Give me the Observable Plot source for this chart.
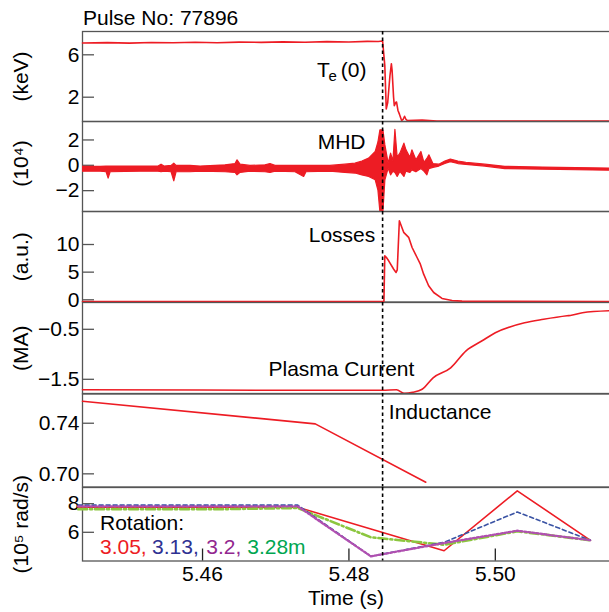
<!DOCTYPE html>
<html><head><meta charset="utf-8">
<script src="https://cdn.jsdelivr.net/npm/d3@7"></script>
<script src="https://cdn.jsdelivr.net/npm/@observablehq/plot@0.6"></script>
<style>
html,body{margin:0;padding:0;background:#fff;overflow:hidden}
#chart{position:relative;width:609px;height:612px;font-family:"Liberation Sans",Arial,Helvetica,sans-serif}
#chart svg{position:absolute;left:0}
#title{position:absolute;left:83px;top:7px;font-size:21px;line-height:21px;color:#000}
</style></head><body>
<div id="chart"><div id="title">Pulse No: 77896</div></div>
<script>
// ---------- data ----------
const xDomain = [5.4436, 5.5156];
const xTicks = [5.46, 5.48, 5.50];
const tCrash = 5.4846;

// Te(0), keV
const teT = [5.4436,5.4470,5.4500,5.4530,5.4560,5.4590,5.4620,5.4650,5.4680,5.4710,5.4740,5.4770,5.4800,5.4825,5.4840,5.4846,
             5.4849,5.4851,5.4853,5.4856,5.4858,5.4859,5.4861,5.4862,5.4864,5.4865,5.4867,5.4869,5.4872,5.4874,5.4876,5.4878,5.4880,5.4900,5.4920,5.5156];
const teV = [7.12,7.15,7.10,7.16,7.13,7.18,7.14,7.20,7.17,7.22,7.19,7.24,7.21,7.27,7.26,7.30,
             5.0,0.9,1.5,4.0,5.15,4.5,2.0,1.2,1.5,1.55,0.75,0.4,-0.2,-0.1,0.2,-0.1,-0.2,-0.15,-0.25,-0.25];

// MHD envelope, 10^4
const mhdT = [5.44362,5.44608,5.44689,5.44717,5.44744,5.45154,5.45399,5.45440,5.45481,5.45577,5.45614,5.45645,5.45836,5.45973,
              5.46314,5.46451,5.46478,5.46519,5.46655,5.46860,5.46928,5.46997,5.47270,5.47388,5.47420,5.47747,5.47952,5.48089,
              5.48184,5.48276,5.48366,5.48403,5.48430,5.48471,5.48498,5.48543,5.48576,5.48608,5.48635,5.48666,5.48703,5.48758,
              5.48785,5.48840,5.48867,5.48922,5.48990,5.49031,5.49072,5.49099,5.49154,5.49235,5.49317,5.49392,5.49495,5.49604,
              5.49863,5.50137,5.50655,5.51556];
const mhdLo = [-0.5,-0.5,-0.55,-1.05,-0.55,-0.5,-0.5,-0.55,-0.5,-0.55,-1.26,-0.55,-0.55,-0.5,
               -0.55,-0.6,-0.79,-0.6,-0.5,-0.55,-0.6,-0.5,-0.55,-0.92,-0.55,-0.5,-0.6,-0.65,
               -0.8,-0.92,-1.18,-2.0,-3.7,-3.7,-1.18,-0.26,-0.79,-0.5,-0.6,-0.92,-0.52,-0.92,
               -0.5,-0.6,-0.4,-0.55,-0.3,-0.5,-0.79,-0.3,-0.2,-0.1,0.1,0.25,0.1,0.03,
               -0.1,-0.3,-0.35,-0.42];
const mhdHi = [-0.12,-0.12,-0.1,-0.1,-0.1,-0.1,-0.1,0.05,-0.1,-0.05,0.13,-0.05,-0.05,-0.1,
               0.0,0.1,0.39,0.05,-0.05,0.0,0.1,-0.05,-0.05,-0.05,-0.05,-0.05,0.05,0.13,
               0.3,0.53,1.05,1.8,2.76,2.76,1.57,0.13,0.92,0.3,2.8,0.6,0.92,1.71,
               1.2,0.6,1.18,0.4,1.05,0.2,0.5,0.79,0.1,0.05,0.3,0.45,0.3,0.2,
               0.05,-0.12,-0.18,-0.26];

// Losses, a.u.
const lossT = [5.4436,5.4700,5.48478,5.48490,5.48510,5.48543,5.48612,5.48644,5.48660,5.48689,5.48748,5.48816,5.48863,5.48931,
               5.48976,5.49021,5.49089,5.49158,5.49272,5.49409,5.49545,5.5156];
const lossV = [-0.3,-0.3,-0.3,7.96,7.7,7.05,5.53,4.94,5.4,14.3,12.2,11.3,9.46,7.65,
               6.44,4.64,2.53,1.32,0.24,-0.13,-0.25,-0.3];

// Plasma current, MA
const ipT = [5.4436,5.4597,5.4734,5.4846,5.4865,5.4876,5.4887,5.4900,5.4915,5.4939,5.4960,5.4982,5.5000,5.5040,5.5066,5.5098,5.5104,5.5119,5.5156];
const ipV = [-1.71,-1.715,-1.72,-1.72,-1.71,-1.78,-1.76,-1.70,-1.47,-1.27,-0.93,-0.73,-0.57,-0.37,-0.30,-0.23,-0.22,-0.17,-0.13];

// Inductance
const liT = [5.4436,5.4754,5.4905];
const liV = [0.7574,0.7395,0.6934];

// Rotation, 10^5 rad/s
const rotT = [5.443,5.453,5.463,5.473,5.483,5.493,5.503,5.513];
const rot305 = [7.75,7.75,7.75,7.75,6.23,4.71,8.9,5.44];
const rot313 = [7.9,7.9,7.9,7.9,4.32,5.3,7.42,5.44];
const rot320 = [7.82,7.82,7.82,7.82,4.32,5.25,6.11,5.44];
const rot328 = [7.62,7.62,7.62,7.7,5.65,5.13,6.07,5.44];

// ---------- layout / style ----------
const W = 609, ML = 82, FS = 21;
const RED = "#ed1c24", FRAME = "#555";
const font = '"Liberation Sans", Arial, Helvetica, sans-serif';
const minus = s => s.replace("-", "\u2212");

const pts = (T, V) => T.map((t, i) => ({t, v: V[i]}));

function label(text, opts) {
  return Plot.text([text], {text: d => d, frameAnchor: "top-left", lineAnchor: "bottom", fontSize: FS, fill: "#000", ...opts});
}
function ylabel(text, dy = 0) {
  return Plot.text([text], {text: d => d, frameAnchor: "left", rotate: -90, dx: -61, dy, textAnchor: "middle", lineAnchor: "middle", fontSize: FS, fill: "#000"});
}

function panel({top, h, mb = 0, domain, ticks, fmt, marks, xaxis = false}) {
  const svg = Plot.plot({
    width: W, height: h + mb,
    marginLeft: ML, marginRight: 0, marginTop: 0, marginBottom: mb,
    x: xaxis ? {domain: xDomain, ticks: xTicks, tickFormat: d3.format(".2f"), tickSize: 0, tickPadding: 5, label: null}
             : {domain: xDomain, axis: null},
    y: {domain, ticks, tickFormat: fmt, tickSize: 0, tickPadding: 3, label: null},
    style: {background: "transparent", overflow: "visible", fontFamily: font, fontSize: FS + "px", color: "#000"},
    marks: [
      Plot.frame({stroke: FRAME, strokeWidth: 1.3, insetRight: -4}),
      Plot.tickY(ticks, {y: d => d, insetRight: W - ML - 12, stroke: FRAME, strokeWidth: 1.3}),
      ...(xaxis ? [Plot.tickX(xTicks, {x: d => d, insetTop: h - 12, stroke: "#222", strokeWidth: 1.3})] : []),
      ...marks,
      Plot.ruleX([tCrash], {x: d => d, stroke: "#000", strokeWidth: 1.6, strokeDasharray: "3.5,3"})
    ]
  });
  svg.style.top = top + "px";
  document.getElementById("chart").appendChild(svg);
}

// Te(0)
panel({top: 31, h: 90, domain: [-0.292, 8.198], ticks: [2, 6], fmt: d => String(d), marks: [
  Plot.line(pts(teT, teV), {x: "t", y: "v", stroke: RED, strokeWidth: 1.6}),
  label("T", {dx: 234.5, dy: 45}),
  label("e", {dx: 246, dy: 49, fontSize: 15}),
  label("(0)", {dx: 284, dy: 45, textAnchor: "end"}),
  ylabel("(keV)")
]});

// MHD
panel({top: 121, h: 90, domain: [-3.645, 3.456], ticks: [-2, 0, 2], fmt: d => minus(String(d)), marks: [
  Plot.areaY(mhdT.map((t, i) => ({t, lo: mhdLo[i], hi: mhdHi[i]})), {x: "t", y1: "lo", y2: "hi", fill: RED, stroke: RED, strokeWidth: 1.2, clip: true}),
  label("MHD", {dx: 283, dy: 27.3, textAnchor: "end"}),
  ylabel("(10\u2074)", -3)
]});

// Losses
panel({top: 211, h: 90.5, domain: [-0.40, 15.97], ticks: [0, 5, 10], fmt: d => String(d), marks: [
  Plot.line(pts(lossT, lossV), {x: "t", y: "v", stroke: RED, strokeWidth: 1.6}),
  label("Losses", {dx: 292.8, dy: 30.7, textAnchor: "end"}),
  ylabel("(a.u.)")
]});

// Plasma current
panel({top: 301.5, h: 91.5, domain: [-1.794, 0.036], ticks: [-1.5, -0.5], fmt: d => minus(d3.format(".1f")(d)), marks: [
  Plot.line(pts(ipT, ipV), {x: "t", y: "v", stroke: RED, strokeWidth: 1.6, curve: "monotone-x"}),
  label("Plasma Current", {dx: 186, dy: 73.5}),
  ylabel("(MA)")
]});

// Inductance
panel({top: 393, h: 93.5, domain: [0.6896, 0.7635], ticks: [0.70, 0.74], fmt: d3.format(".2f"), marks: [
  Plot.line(pts(liT, liV), {x: "t", y: "v", stroke: RED, strokeWidth: 1.6}),
  label("Inductance", {dx: 306.3, dy: 25.3})
]});

// Rotation
panel({top: 486.5, h: 73.5, mb: 52, xaxis: true, domain: [3.993, 9.133], ticks: [6, 8], fmt: d => String(d), marks: [
  Plot.line(pts(rotT, rot305), {x: "t", y: "v", stroke: RED, strokeWidth: 1.6}),
  Plot.line(pts(rotT, rot328), {x: "t", y: "v", stroke: "#8cc63f", strokeWidth: 2.6, strokeDasharray: "9,3,2,3"}),
  Plot.line(pts(rotT, rot313), {x: "t", y: "v", stroke: "#3a53a4", strokeWidth: 1.6, strokeDasharray: "4,3"}),
  Plot.line(pts(rotT, rot320), {x: "t", y: "v", stroke: "#b04fb0", strokeWidth: 2.3, strokeDasharray: "2,2"}),
  label("Rotation:", {dx: 17.5, dy: 42.2}),
  label("3.05,", {dx: 17.5, dy: 66.2, fill: RED}),
  label("3.13,", {dx: 69.6, dy: 66.2, fill: "#2e3192"}),
  label("3.2,", {dx: 123.7, dy: 66.2, fill: "#92278f"}),
  label("3.28m", {dx: 164.7, dy: 66.2, fill: "#00a651"}),
  Plot.text(["Time (s)"], {text: d => d, frameAnchor: "bottom", dy: 44, lineAnchor: "bottom", fontSize: FS, fill: "#000"}),
  ylabel("(10\u2075 rad/s)")
]});
</script>
</body></html>
